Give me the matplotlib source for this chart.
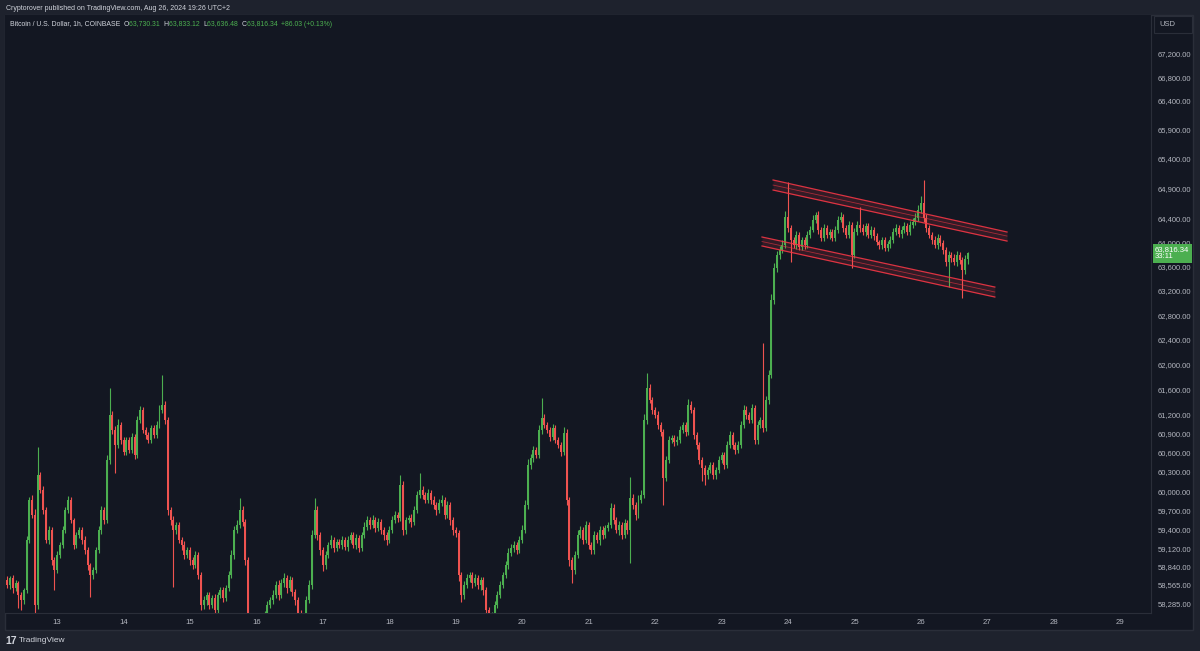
import matplotlib
matplotlib.use('Agg')
import matplotlib.pyplot as plt
import numpy as np
from matplotlib.patches import Rectangle
from matplotlib.ticker import FixedLocator, FixedFormatter, NullLocator
from matplotlib.transforms import blended_transform_factory

# ---------------- data (BTC/USD 1h, Coinbase, Aug 12 05:00 -> Aug 26 17:00 UTC) -------------
first_open = 58600
closes = [
    58635, 58559, 58665, 58513, 58590, 58408, 58332, 58483, 59246, 59864,
    59631, 58256, 60253, 60019, 59709, 59246, 59400, 58940, 58787, 59016,
    59170, 59400, 59709, 59864, 59554, 59170, 59323, 59400, 59246, 59093,
    58863, 58711, 58787, 59093, 59400, 59709, 59554, 60487, 61197, 60960,
    60724, 61039, 60802, 60614, 60802, 60645, 60850, 60566, 61118, 61276,
    60960, 60881, 60802, 60992, 60881, 61039, 61276, 61356, 61118, 59709,
    59554, 59400, 59477, 59246, 59170, 59016, 59093, 58940, 58863, 59016,
    58711, 58256, 58332, 58408, 58256, 58362, 58181, 58408, 58483, 58362,
    58513, 58711, 59016, 59400, 59477, 59709, 59523, 58940, 57955, 57880,
    57910, 57805, 57955, 58030, 58105, 58256, 58332, 58408, 58559, 58408,
    58590, 58665, 58513, 58635, 58453, 58332, 58136, 58030, 57955, 58332,
    58559, 59323, 59709, 59323, 59093, 58863, 59016, 59170, 59246, 59124,
    59216, 59170, 59246, 59139, 59246, 59323, 59170, 59277, 59124, 59323,
    59446, 59554, 59477, 59554, 59431, 59523, 59400, 59323, 59246, 59400,
    59554, 59631, 59585, 60097, 59400, 59554, 59585, 59523, 59709, 59941,
    60019, 59941, 59864, 59972, 59864, 59786, 59709, 59817, 59864, 59631,
    59786, 59554, 59400, 59354, 58711, 58408, 58559, 58665, 58711, 58590,
    58665, 58559, 58635, 58483, 58181, 58030, 58105, 58256, 58408, 58559,
    58711, 58863, 59047, 59124, 59170, 59093, 59246, 59400, 59786, 60409,
    60518, 60645, 60566, 60960, 61150, 61039, 60960, 60850, 60992, 60802,
    60724, 60614, 60913, 59864, 58940, 58787, 59016, 59323, 59400, 59246,
    59477, 59170, 59093, 59323, 59246, 59400, 59323, 59431, 59477, 59740,
    59554, 59400, 59477, 59323, 59508, 59400, 59895, 59786, 59631, 59864,
    59941, 61118, 61627, 61435, 61276, 61197, 61039, 60929, 60206, 60487,
    60802, 60834, 60771, 60802, 60960, 61039, 60929, 61356, 61276, 60881,
    60724, 60487, 60362, 60253, 60331, 60409, 60253, 60331, 60487, 60566,
    60409, 60724, 60881, 60724, 60645, 60724, 61039, 61276, 61197, 61118,
    61308, 60802, 61039, 61118, 60992, 61435, 61835, 63049, 63574, 63789,
    63872, 63955, 64420, 64236, 64037, 63955, 64120, 63922, 64037, 63955,
    64120, 64203, 64370, 64453, 64203, 64070, 64236, 64120, 64170, 64070,
    64203, 64370, 64420, 64236, 64120, 64286, 63789, 64170, 64286, 64236,
    64170, 64270, 64120, 64203, 64103, 64004, 63955, 64037, 63905, 63971,
    64037, 64170, 64236, 64136, 64203, 64270, 64170, 64286, 64336, 64403,
    64536, 64654, 64403, 64236, 64120, 64037, 63955, 64070, 63988, 63872,
    63673, 63789, 63739, 63673, 63789, 63706, 63541, 63730, 63816.34,
]
wick_up = [
    40, 60, 30, 50, 45, 30, 40, 35, 60, 50,
    70, 90, 440, 50, 60, 40, 55, 50, 45, 60,
    40, 55, 45, 60, 40, 35, 50, 45, 40, 55,
    40, 35, 50, 45, 60, 55, 45, 80, 430, 70,
    60, 90, 50, 40, 55, 45, 60, 40, 70, 60,
    45, 40, 55, 50, 40, 60, 80, 480, 60, 50,
    40, 55, 50, 45, 40, 60, 50, 45, 40, 55,
    50, 40, 60, 45, 50, 40, 55, 45, 50, 40,
    45, 60, 70, 55, 80, 190, 60, 50, 40, 45,
    40, 50, 45, 40, 55, 60, 50, 80, 60, 70,
    60, 70, 50, 60, 45, 50, 40, 45, 50, 60,
    70, 80, 190, 60, 50, 45, 60, 50, 80, 45,
    50, 40, 60, 45, 55, 50, 40, 60, 45, 50,
    70, 60, 50, 80, 45, 55, 50, 40, 45, 60,
    60, 70, 50, 160, 60, 50, 45, 55, 60, 70,
    265, 60, 50, 70, 45, 55, 50, 60, 70, 45,
    60, 50, 40, 45, 50, 40, 55, 60, 50, 45,
    60, 45, 50, 40, 45, 40, 50, 60, 55, 60,
    50, 60, 70, 55, 60, 50, 60, 70, 80, 90,
    70, 60, 50, 80, 320, 60, 50, 45, 60, 50,
    45, 50, 90, 60, 50, 45, 60, 70, 55, 50,
    60, 50, 45, 60, 50, 55, 60, 50, 45, 80,
    60, 50, 55, 45, 60, 50, 330, 60, 50, 70,
    80, 90, 240, 60, 50, 45, 60, 50, 40, 60,
    70, 50, 45, 60, 70, 50, 45, 90, 60, 50,
    45, 40, 50, 45, 55, 50, 45, 50, 60, 55,
    50, 60, 70, 50, 45, 60, 70, 80, 60, 50,
    70, 50, 60, 50, 1230, 60, 80, 100, 90, 70,
    60, 80, 100, 590, 50, 45, 60, 50, 55, 50,
    60, 70, 80, 50, 60, 45, 60, 50, 55, 45,
    60, 70, 80, 50, 45, 60, 50, 60, 70, 300,
    60, 50, 45, 60, 50, 45, 40, 55, 50, 45,
    60, 70, 60, 50, 60, 70, 55, 60, 70, 80,
    90, 110, 390, 60, 50, 45, 60, 70, 50, 45,
    50, 60, 55, 60, 70, 50, 45, 60, 17,
]
wick_dn = [
    50, 40, 60, 70, 50, 200, 150, 60, 50, 40,
    50, 120, 60, 50, 60, 50, 60, 70, 300, 50,
    40, 50, 45, 40, 50, 60, 45, 50, 55, 60,
    80, 330, 60, 50, 45, 55, 60, 50, 60, 70,
    440, 50, 60, 45, 50, 55, 40, 60, 50, 40,
    50, 60, 45, 50, 55, 40, 45, 50, 60, 80,
    70, 870, 60, 50, 70, 60, 50, 80, 60, 50,
    60, 80, 60, 70, 60, 50, 80, 60, 50, 60,
    50, 45, 50, 60, 45, 50, 60, 80, 90, 70,
    60, 80, 70, 60, 50, 60, 50, 60, 45, 70,
    50, 60, 70, 50, 60, 80, 90, 70, 80, 60,
    50, 60, 45, 70, 80, 90, 60, 50, 45, 60,
    50, 45, 55, 50, 60, 45, 50, 55, 60, 50,
    45, 50, 60, 45, 55, 50, 60, 70, 80, 50,
    45, 50, 60, 50, 80, 60, 50, 70, 50, 45,
    50, 60, 45, 50, 55, 60, 70, 50, 45, 60,
    50, 70, 80, 60, 90, 100, 60, 50, 60, 70,
    50, 60, 70, 80, 90, 80, 70, 60, 50, 45,
    50, 45, 60, 50, 55, 60, 50, 45, 50, 60,
    55, 60, 50, 45, 60, 50, 55, 60, 50, 45,
    50, 60, 50, 70, 90, 200, 60, 50, 45, 60,
    50, 60, 55, 60, 50, 70, 60, 50, 45, 50,
    60, 50, 70, 60, 50, 60, 500, 60, 70, 50,
    45, 50, 60, 50, 60, 50, 60, 70, 420, 50,
    45, 50, 60, 55, 50, 45, 60, 50, 40, 60,
    70, 60, 200, 150, 60, 50, 70, 60, 50, 45,
    60, 50, 45, 60, 70, 50, 45, 50, 60, 55,
    50, 70, 60, 50, 60, 50, 60, 50, 60, 70,
    60, 50, 45, 60, 360, 50, 60, 55, 50, 60,
    50, 45, 40, 50, 60, 55, 50, 45, 60, 50,
    45, 50, 40, 60, 55, 50, 215, 50, 45, 60,
    50, 60, 45, 55, 60, 50, 70, 60, 55, 50,
    60, 50, 45, 50, 60, 45, 50, 55, 45, 50,
    45, 50, 60, 70, 55, 60, 50, 60, 55, 70,
    60, 410, 60, 55, 70, 60, 460, 60, 94,
]
first_day_hour = 19          # candle index of Aug 13 00:00
day_labels = ['13', '14', '15', '16', '17', '18', '19', '20', '21', '22',
              '23', '24', '25', '26', '27', '28', '29']
price_ticks = [67200, 66800, 66400, 65900, 65400, 64900, 64400, 64000, 63600,
               63200, 62800, 62400, 62000, 61600, 61200, 60900, 60600, 60300,
               60000, 59700, 59400, 59120, 58840, 58565, 58285]
last_price = 63816.34
countdown = '33:11'
legend_ohlc = [('O', '63,730.31'), ('H', '63,833.12'), ('L', '63,636.48'), ('C', '63,816.34')]
legend_change = '+86.03 (+0.13%)'

# drawn descending channel (time in candle index, price)
upper_band_t = [277.6, 362.1]
upper_band = [[65041, 64170], [64956, 64103], [64872, 64020]]
lower_band_t = [273.6, 357.7]
lower_band = [[64087, 63261], [64012, 63180], [63938, 63098]]

# ---------------- style ----------------
W, H = 1200, 651
BG_OUT = '#1e222d'
BG = '#131722'
BORDER = '#2a2e39'
UP = '#4caf50'
DN = '#ef5350'
TXT = '#b2b5be'
plt.rcParams['font.family'] = ['Liberation Sans', 'DejaVu Sans']

fig = plt.figure(figsize=(W / 100, H / 100), dpi=100, facecolor=BG_OUT)

def fx(px):
    return px / W

def fy(py):
    return 1 - py / H

panel = Rectangle((fx(5), fy(630)), fx(1193 - 5), (630 - 15) / H, transform=fig.transFigure,
                  facecolor=BG, edgecolor=BORDER, lw=1, zorder=-10)
fig.add_artist(panel)

ax = fig.add_axes([fx(5), fy(613), fx(1151 - 5), (613 - 15) / H])
ax.set_facecolor(BG)

o = np.array([first_open] + closes[:-1], dtype=float)
c = np.array(closes, dtype=float)
hi = np.maximum(o, c) + np.array(wick_up)
lo = np.minimum(o, c) - np.array(wick_dn)
x = np.arange(len(c))
cols = np.where(c >= o, UP, DN)

ax.vlines(x, lo, hi, colors=cols, lw=0.8, zorder=2)
body_h = np.maximum(np.abs(c - o), 10)
ax.bar(x, body_h, bottom=np.minimum(o, c), width=0.72, color=cols, lw=0, zorder=3)

# channel
for t, band in ((upper_band_t, upper_band), (lower_band_t, lower_band)):
    for k, line in enumerate(band):
        ax.plot(t, line, color='#f23645', lw=0.9 if k != 1 else 0.6,
                alpha=0.9 if k != 1 else 0.6, zorder=4)
    ax.fill_between(np.array(t), band[2], band[0], color='#f23645', alpha=0.14, lw=0, zorder=1)

ax.set_yscale('log')
ax.set_ylim(58136, 67883)
ax.set_xlim(0.2, 414.1)
ax.yaxis.set_major_locator(FixedLocator(price_ticks))
ax.yaxis.set_major_formatter(FixedFormatter([f'{p:,.2f}' for p in price_ticks]))
ax.yaxis.set_minor_locator(NullLocator())
ax.yaxis.tick_right()
ax.xaxis.set_major_locator(FixedLocator([first_day_hour + 24 * k for k in range(len(day_labels))]))
ax.xaxis.set_major_formatter(FixedFormatter(day_labels))
ax.tick_params(axis='y', length=0, pad=5, labelsize=5.5, labelcolor=TXT)
ax.tick_params(axis='x', length=0, pad=4, labelsize=5.6, labelcolor=TXT)
for s in ('top', 'left'):
    ax.spines[s].set_visible(False)
ax.spines['right'].set_color(BORDER)
ax.spines['bottom'].set_color(BORDER)

# current price tag
trans = blended_transform_factory(ax.transAxes, ax.transData)
ax.text(1.0035, last_price, f'{last_price:,.2f}\n{countdown}', transform=trans,
        ha='left', va='center', fontsize=5.6, color='white', linespacing=1.05,
        bbox=dict(boxstyle='square,pad=0.28', facecolor=UP, edgecolor='none'),
        clip_on=False, zorder=10)

# USD box
fig.add_artist(Rectangle((fx(1154), fy(33)), fx(38), 17 / H, transform=fig.transFigure,
                         facecolor=BG, edgecolor=BORDER, lw=0.8))
fig.text(fx(1159), fy(25), 'USD', fontsize=5.5, color=TXT, va='center', ha='left')

# header
fig.text(fx(6), fy(8), 'Cryptorover published on TradingView.com, Aug 26, 2024 19:26 UTC+2',
         fontsize=5.0, color='#d1d4dc', va='center', ha='left')

# legend line with coloured pieces
renderer = fig.canvas.get_renderer()
pieces = [('Bitcoin / U.S. Dollar, 1h, COINBASE  ', '#d1d4dc')]
for k, v in legend_ohlc:
    pieces.append((k, '#d1d4dc'))
    pieces.append((v + '  ', UP))
pieces.append((legend_change, UP))
xpos = 10
for s, col in pieces:
    t = fig.text(fx(xpos), fy(24), s, fontsize=4.95, color=col, va='center', ha='left')
    bb = t.get_window_extent(renderer)
    xpos += bb.width

# TradingView logo
fig.text(fx(5), fy(641), '17', fontsize=7.5, fontweight='bold', color='#d1d4dc', va='center', ha='left')
fig.text(fx(19), fy(641), 'TradingView', fontsize=6.0, color='#d1d4dc', va='center', ha='left')

fig.savefig('out.png', dpi=100, facecolor=BG_OUT)
